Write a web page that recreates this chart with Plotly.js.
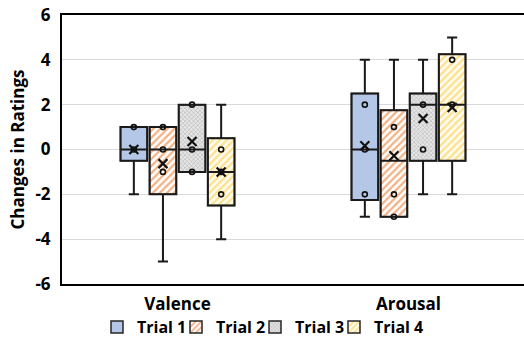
<!DOCTYPE html>
<html>
<head>
<meta charset="utf-8">
<script src="https://cdn.plot.ly/plotly-3.0.1.min.js"></script>
<style>html,body{margin:0;padding:0;background:#fff;}#chart{width:524px;height:350px;}</style>
</head>
<body>
<div id="chart"></div>
<script>
// ---- data ----
const categories = ['Valence', 'Arousal'];
const trials = ['Trial 1', 'Trial 2', 'Trial 3', 'Trial 4'];

const q1Values     = [[-0.5, -2.25], [-2, -3],    [-1, -0.5], [-2.5, -0.5]];
const medianValues = [[0, 0],        [0, -0.5],   [0, 2],     [-1, 2]];
const q3Values     = [[1, 2.5],      [1, 1.75],   [2, 2.5],   [0.5, 4.25]];
const lowerValues  = [[-2, -3],      [-5, -3],    [-1, -2],   [-4, -2]];
const upperValues  = [[1, 4],        [1, 4],      [2, 4],     [2, 5]];
const meanValues   = [[0, 0.17],     [-0.63, -0.28], [0.36, 1.38], [-1, 1.87]];
// inner points per trial: [Valence points, Arousal points]
const pointValues = [
  [[1, 0],      [2, 0, -2]],
  [[1, 0, -1],  [1, -2, -3]],
  [[2, 0, -1],  [2, 0]],
  [[0, -1, -2], [4, 2]]
];
const yTicks = [-6, -4, -2, 0, 2, 4, 6];

// ---- styling ----
const SLOT = 0.126, BOXW = 0.1155;
const FONT = '"Open Sans", Lato, sans-serif';
const FS = 17;
const styles = [
  {color: '#B4C7E7', pattern: {shape: ''}},
  {color: '#FFFFFF', pattern: {shape: '/', fgcolor: '#F4B183', bgcolor: '#FFFFFF', size: 5, solidity: 0.45}},
  {color: '#E2E2E2', pattern: {shape: 'x', fgcolor: '#ABABAB', bgcolor: '#E6E6E6', size: 3, solidity: 0.3}},
  {color: '#FFFFFF', pattern: {shape: '/', fgcolor: '#FFE08A', bgcolor: '#FFFDF2', size: 5, solidity: 0.45}}
];
const legendIds = ['legend', 'legend2', 'legend3', 'legend4'];
const legendLeftPx = [97, 176, 255, 334];

function pos(cat, t) { return cat + (t - 1.5) * SLOT; }

const traces = [];
// box bodies with fill patterns (bars, legend)
trials.forEach((name, t) => {
  traces.push({
    type: 'bar', name: name, legend: legendIds[t],
    x: categories.map((c, i) => pos(i, t)),
    base: q1Values[t],
    y: q3Values[t].map((v, i) => v - q1Values[t][i]),
    width: BOXW,
    marker: {color: styles[t].color, pattern: styles[t].pattern, line: {color: '#262626', width: 1.5}},
    hoverinfo: 'skip'
  });
});
// outlines, medians and whiskers
trials.forEach((name, t) => {
  traces.push({
    type: 'box', name: name, showlegend: false,
    x: categories.map((c, i) => pos(i, t)),
    q1: q1Values[t], median: medianValues[t], q3: q3Values[t],
    lowerfence: lowerValues[t], upperfence: upperValues[t],
    width: BOXW, whiskerwidth: 0.38,
    fillcolor: 'rgba(0,0,0,0)', line: {color: '#1a1a1a', width: 2},
    boxpoints: false, hoverinfo: 'skip'
  });
});
// inner points
trials.forEach((name, t) => {
  const xs = [], ys = [];
  pointValues[t].forEach((pts, i) => pts.forEach(v => { xs.push(pos(i, t)); ys.push(v); }));
  traces.push({
    type: 'scatter', mode: 'markers', showlegend: false, x: xs, y: ys,
    marker: {symbol: 'circle-open', size: 5, color: '#111', line: {width: 1.6, color: '#111'}},
    hoverinfo: 'skip', cliponaxis: false
  });
});
// means
trials.forEach((name, t) => {
  traces.push({
    type: 'scatter', mode: 'markers', showlegend: false,
    x: categories.map((c, i) => pos(i, t)), y: meanValues[t],
    marker: {symbol: 'x-thin', size: 9, color: '#111', line: {width: 2.2, color: '#111'}},
    hoverinfo: 'skip'
  });
});

const layout = {
  width: 524, height: 350,
  margin: {l: 62, r: 0, t: 15, b: 66},
  paper_bgcolor: '#fff', plot_bgcolor: '#fff',
  barmode: 'overlay', boxmode: 'overlay',
  font: {family: FONT, size: FS, color: '#000', weight: 700},
  showlegend: true,
  xaxis: {
    range: [-0.5, 1.5], tickmode: 'array', tickvals: categories.map((c, i) => i), ticktext: categories,
    showgrid: false, zeroline: false, showline: true, mirror: true,
    linecolor: '#000', linewidth: 2, ticks: '', ticklabelstandoff: 4,
    tickfont: {family: FONT, size: FS, color: '#000', weight: 700}
  },
  yaxis: {
    range: [-6, 6], tickmode: 'array', tickvals: yTicks, ticktext: yTicks.map(String),
    showgrid: true, gridcolor: '#D9D9D9', gridwidth: 1, zeroline: false,
    showline: true, linecolor: '#000', linewidth: 2, ticks: '', ticklabelstandoff: 6,
    tickfont: {family: FONT, size: FS, color: '#000', weight: 700},
    title: {text: 'Changes in Ratings', standoff: 6, font: {family: FONT, size: FS, color: '#000', weight: 700}}
  }
};
legendIds.forEach((id, t) => {
  layout[id] = {
    orientation: 'h', xref: 'container', yref: 'container',
    x: legendLeftPx[t] / 524, xanchor: 'left', y: (350 - 327) / 350, yanchor: 'middle',
    font: {family: FONT, size: 16, color: '#000', weight: 700},
    itemwidth: 30, bgcolor: 'rgba(0,0,0,0)'
  };
});

Plotly.newPlot('chart', traces, layout, {staticPlot: true, displayModeBar: false});
</script>
</body>
</html>
